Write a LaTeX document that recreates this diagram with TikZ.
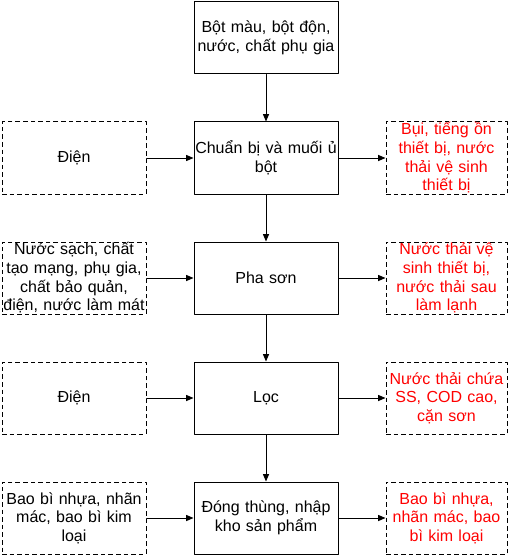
\documentclass[tikz,border=0pt]{standalone}
\usepackage{fontspec}
\setmainfont{Liberation Sans}
\usetikzlibrary{arrows.meta}
\definecolor{ffqqqq}{rgb}{1.,0.,0.}
\definecolor{qqqqqq}{rgb}{0.,0.,0.}

\begin{document}
\begin{tikzpicture}[line cap=round,line join=round,>={Triangle[length=5.5pt,width=4.5pt]},x=0.75pt,y=0.75pt,
  box/.style={draw=qqqqqq,line width=0.75pt,inner sep=0pt,align=center,font=\fontsize{12}{14}\selectfont,text width=108pt,minimum height=54pt},
  dbox/.style={box,line cap=butt,dash pattern=on 3.5pt off 2.2pt},
  outbox/.style={dbox,text width=90.75pt,text=ffqqqq}]
\useasboundingbox (0,0) rectangle (509,-556);
%\draw [color=gray!40, step=20] (0,0) grid (509,-556);
% main column
\node [box] (nguyenlieu) at (266,-38) {Bột màu, bột độn,\\nước, chất phụ gia};
\node [box] (chuanbi) at (266,-158) {Chuẩn bị và muối ủ\\bột};
\node [box] (phason) at (266,-278) {Pha sơn};
\node [box] (loc) at (266,-398) {Lọc};
\node [box] (dongthung) at (266,-518) {Đóng thùng, nhập\\kho sản phẩm};
% inputs
\node [dbox] (vao1) at (74,-158) {Điện};
\node [dbox] (vao2) at (74,-278) {Nước sạch, chất\\tạo mạng, phụ gia,\\chất bảo quản,\\điện, nước làm mát};
\node [dbox] (vao3) at (74,-398) {Điện};
\node [dbox] (vao4) at (74,-518) {Bao bì nhựa, nhãn\\mác, bao bì kim\\loại};
% wastes
\node [outbox] (thai1) at (446.5,-158) {Bụi, tiếng ồn\\thiết bị, nước\\thải vệ sinh\\thiết bị};
\node [outbox] (thai2) at (446.5,-278) {Nước thải vệ\\sinh thiết bị,\\nước thải sau\\làm lạnh};
\node [outbox] (thai3) at (446.5,-398) {Nước thải chứa\\SS, COD cao,\\cặn sơn};
\node [outbox] (thai4) at (446.5,-518) {Bao bì nhựa,\\nhãn mác, bao\\bì kim loại};
% arrows
\draw [->,line width=0.75pt] (nguyenlieu) -- (chuanbi);
\draw [->,line width=0.75pt] (chuanbi) -- (phason);
\draw [->,line width=0.75pt] (phason) -- (loc);
\draw [->,line width=0.75pt] (loc) -- (dongthung);
\draw [->,line width=0.75pt] (vao1) -- (chuanbi);
\draw [->,line width=0.75pt] (vao2) -- (phason);
\draw [->,line width=0.75pt] (vao3) -- (loc);
\draw [->,line width=0.75pt] (vao4) -- (dongthung);
\draw [->,line width=0.75pt] (chuanbi) -- (thai1);
\draw [->,line width=0.75pt] (phason) -- (thai2);
\draw [->,line width=0.75pt] (loc) -- (thai3);
\draw [->,line width=0.75pt] (dongthung) -- (thai4);
\end{tikzpicture}
\end{document}
